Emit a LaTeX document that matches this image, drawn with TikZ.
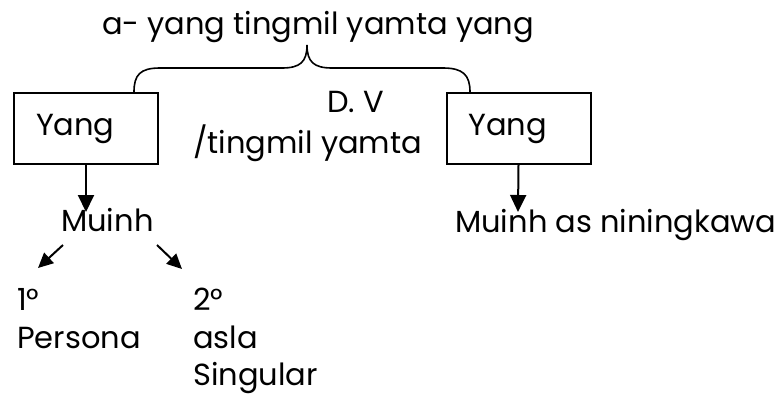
\documentclass[tikz,border=0pt]{standalone}
\usepackage{fontspec}
\setmainfont{Poppins}
\usetikzlibrary{arrows.meta}

\tikzset{
  txt/.style={anchor=base west, inner sep=0pt, font=\fontsize{30.5}{36}\selectfont},
  yangbox/.style={draw, line width=2pt, minimum height=71pt, text width=100pt,
    align=left, inner xsep=22pt, font=\fontsize{30.5}{36}\selectfont},
  arr/.style={line width=2pt, -{Triangle[length=17pt,width=16pt]}},
  smallarr/.style={line width=2pt, -{Triangle[length=15pt,width=14pt]}},
}

\begin{document}
\begin{tikzpicture}[x=1pt,y=-1pt]
\useasboundingbox (0,0) rectangle (782,396);

% title and brace
\node (title) [txt, anchor=base] at (318,35) {a- yang tingmil yamta yang};
\draw [line width=1.6pt] (134,92) .. controls (134,75) and (140,68) .. (160,68)
  -- (282,68) .. controls (300,68) and (307,62) .. (307,45)
  .. controls (307,62) and (314,68) .. (332,68)
  -- (443,68) .. controls (463,68) and (470,75) .. (470,92);

% boxes
\node (lbox) [yangbox] at (86,128.5) {Yang};
\node (rbox) [yangbox] at (518.5,128.5) {Yang};

% middle label
\node (dv) [txt] at (327,113) {D. V};
\node (tingmil) [txt] at (193,153) {/tingmil yamta};

% left branch
\node (muinh) [txt] at (61,231) {Muinh};
\coordinate (ltip) at (86,212);
\draw [arr] (lbox.south) -- (ltip);

\coordinate (m1) at (63,245);
\coordinate (p1) at (38,268);
\coordinate (m2) at (157,245);
\coordinate (p2) at (182,269);
\draw [smallarr] (m1) -- (p1);
\draw [smallarr] (m2) -- (p2);

\node (first) [txt] at (17,310) {1°};
\node (persona) [txt] at (17,348) {Persona};
\node (second) [txt] at (193,310) {2°};
\node (asla) [txt] at (193,348) {asla};
\node (singular) [txt] at (193,385) {Singular};

% right branch
\node (muinhr) [txt] at (455,232) {Muinh as niningkawa};
\coordinate (rtip) at (518,212);
\draw [arr] (rbox.south) -- (rtip);

\end{tikzpicture}
\end{document}
